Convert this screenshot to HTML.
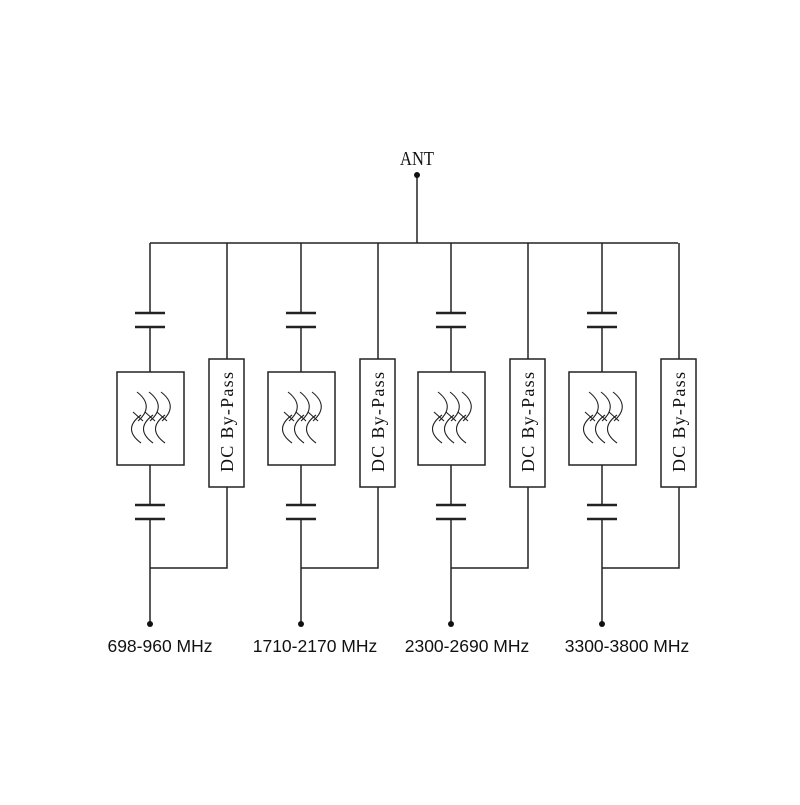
<!DOCTYPE html>
<html><head><style>html,body{margin:0;padding:0;background:#fff;}</style></head>
<body>
<svg width="800" height="800" viewBox="0 0 800 800" xmlns="http://www.w3.org/2000/svg">
<defs>
<g id="col" stroke="#222" stroke-width="1.5" fill="none">
  <line x1="0" y1="243" x2="0" y2="313"/>
  <line x1="-15" y1="313" x2="15" y2="313" stroke-width="2.5"/>
  <line x1="-15" y1="327" x2="15" y2="327" stroke-width="2.5"/>
  <line x1="0" y1="327" x2="0" y2="372"/>
  <rect x="-33" y="372" width="67" height="93" fill="#fff"/>
  <line x1="0" y1="465" x2="0" y2="505"/>
  <line x1="-15" y1="505" x2="15" y2="505" stroke-width="2.5"/>
  <line x1="-15" y1="519" x2="15" y2="519" stroke-width="2.5"/>
  <line x1="0" y1="519" x2="0" y2="624"/>
  <polyline points="0,568 77,568 77,487"/>
  <line x1="77" y1="243" x2="77" y2="359"/>
  <rect x="59" y="359" width="35" height="128" fill="#fff"/>
  <g stroke-width="1.1">
    <path d="M-13,392 Q5,406 -12,421"/><path d="M-9,415 Q-28,429 -9,443"/><path d="M-17,412 L-7,421"/>
    <path d="M-1,392 Q17,406 0,421"/><path d="M3,415 Q-16,429 3,443"/><path d="M-5,412 L5,421"/>
    <path d="M11,392 Q29,406 12,421"/><path d="M15,415 Q-4,429 15,443"/><path d="M7,412 L17,421"/>
  </g>
  <circle cx="0" cy="624" r="3" fill="#111" stroke="none"/>
  <text transform="translate(83,422) rotate(-90)" text-anchor="middle" font-family="Liberation Serif, serif" font-size="18" textLength="100" lengthAdjust="spacing" fill="#111" stroke="none">DC By-Pass</text>
</g>
</defs>
<line x1="150" y1="243" x2="678" y2="243" stroke="#222" stroke-width="1.5"/>
<line x1="417" y1="175" x2="417" y2="243" stroke="#222" stroke-width="1.5"/>
<circle cx="417" cy="175" r="3" fill="#111"/>
<text x="417" y="165" text-anchor="middle" font-family="Liberation Serif, serif" font-size="20" textLength="34" lengthAdjust="spacingAndGlyphs" fill="#111">ANT</text>
<use href="#col" x="150"/>
<use href="#col" x="301"/>
<use href="#col" x="451"/>
<use href="#col" x="602"/>
<g font-family="Liberation Sans, sans-serif" font-size="17.5" fill="#111" text-anchor="middle">
<text x="160" y="652">698-960 MHz</text>
<text x="315" y="652">1710-2170 MHz</text>
<text x="467" y="652">2300-2690 MHz</text>
<text x="627" y="652">3300-3800 MHz</text>
</g>
</svg>
</body></html>
